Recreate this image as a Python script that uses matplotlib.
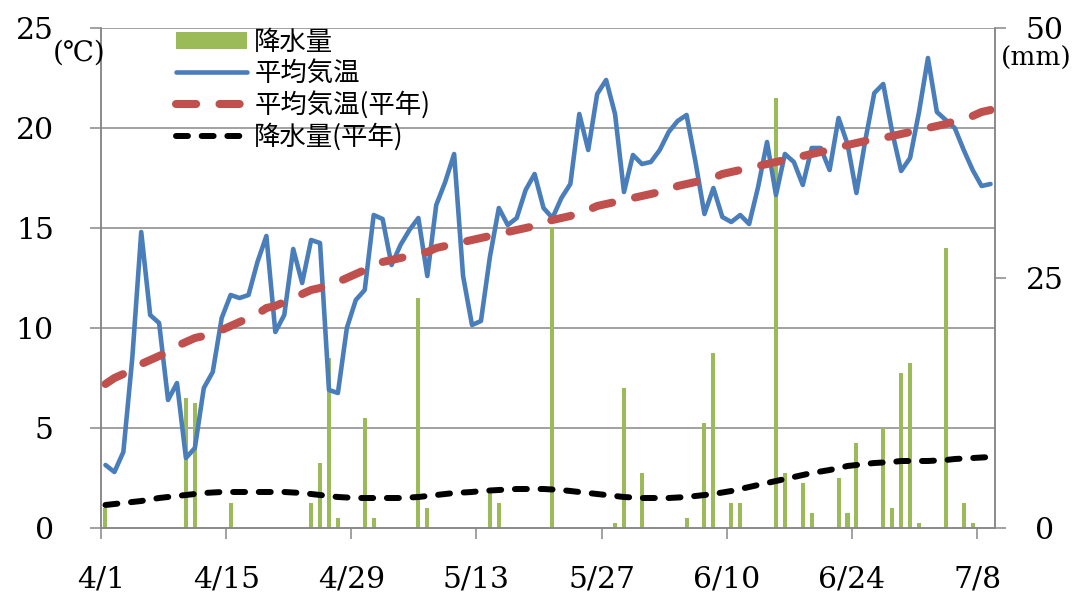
import matplotlib
matplotlib.use('Agg')
import matplotlib.pyplot as plt
import numpy as np

# daily values, 4/1 .. 7/9 (100 days)
temp_mean = [3.15, 2.8, 3.8, 8.5, 14.8, 10.65, 10.25, 6.4, 7.25, 3.5,
             4.0, 7.0, 7.8, 10.5, 11.65, 11.5, 11.65, 13.3, 14.6, 9.8,
             10.65, 13.95, 12.25, 14.4, 14.25, 6.9, 6.75, 10.0, 11.4, 11.9,
             15.65, 15.45, 13.15, 14.15, 14.9, 15.5, 12.6, 16.15, 17.3, 18.7,
             12.6, 10.15, 10.35, 13.55, 16.0, 15.15, 15.5, 16.9, 17.7, 16.0,
             15.5, 16.5, 17.2, 20.7, 18.9, 21.7, 22.4, 20.7, 16.8, 18.65,
             18.2, 18.3, 18.9, 19.8, 20.35, 20.65, 18.3, 15.7, 17.0, 15.55,
             15.3, 15.65, 15.2, 17.05, 19.3, 16.65, 18.7, 18.3, 17.15, 19.0,
             19.0, 17.9, 20.5, 19.2, 16.75, 19.4, 21.75, 22.2, 19.8, 17.85,
             18.5, 20.8, 23.5, 20.8, 20.4, 20.0, 18.9, 17.9, 17.1, 17.2]

temp_normal = [7.2, 7.5, 7.7, 8.0, 8.2, 8.4, 8.6, 8.8, 9.1, 9.3,
               9.5, 9.6, 9.8, 9.9, 10.1, 10.3, 10.5, 10.7, 11.0, 11.1,
               11.3, 11.5, 11.7, 11.9, 12.0, 12.2, 12.3, 12.5, 12.7, 12.9,
               13.1, 13.3, 13.4, 13.5, 13.6, 13.7, 13.8, 14.0, 14.1, 14.2,
               14.3, 14.4, 14.5, 14.6, 14.7, 14.8, 14.9, 15.0, 15.1, 15.3,
               15.4, 15.5, 15.6, 15.8, 15.9, 16.1, 16.2, 16.3, 16.4, 16.5,
               16.6, 16.7, 16.8, 16.9, 17.1, 17.2, 17.3, 17.4, 17.5, 17.7,
               17.8, 17.9, 18.0, 18.1, 18.2, 18.3, 18.4, 18.5, 18.6, 18.7,
               18.8, 18.9, 19.0, 19.15, 19.25, 19.35, 19.4, 19.5, 19.6, 19.7,
               19.8, 19.9, 20.0, 20.1, 20.2, 20.35, 20.5, 20.6, 20.8, 20.9]

precip_normal = [2.3, 2.4, 2.5, 2.6, 2.7, 2.85, 3.0, 3.1, 3.2, 3.3,
                 3.4, 3.5, 3.55, 3.6, 3.6, 3.6, 3.6, 3.6, 3.6, 3.6,
                 3.6, 3.55, 3.5, 3.4, 3.3, 3.2, 3.1, 3.05, 3.0, 3.0,
                 3.0, 3.0, 3.0, 3.0, 3.05, 3.1, 3.2, 3.3, 3.4, 3.5,
                 3.55, 3.6, 3.7, 3.75, 3.8, 3.85, 3.9, 3.9, 3.9, 3.9,
                 3.85, 3.8, 3.7, 3.6, 3.5, 3.4, 3.3, 3.2, 3.1, 3.05,
                 3.0, 3.0, 3.0, 3.0, 3.05, 3.1, 3.2, 3.3, 3.4, 3.55,
                 3.7, 3.9, 4.1, 4.3, 4.5, 4.7, 4.9, 5.1, 5.3, 5.5,
                 5.65, 5.8, 6.0, 6.2, 6.3, 6.4, 6.5, 6.55, 6.6, 6.7,
                 6.7, 6.7, 6.7, 6.75, 6.8, 6.9, 6.95, 7.0, 7.05, 7.1]

# days with rain (index from 4/1) and amount in mm
rain_day = [0, 9, 10, 14, 23, 24, 25, 26, 29, 30, 35, 36, 43, 44, 50, 57, 58,
            60, 65, 67, 68, 70, 71, 75, 76, 78, 79, 82, 83, 84, 87, 88, 89,
            90, 91, 94, 96, 97]
rain_mm = [2.0, 13.0, 12.5, 2.5, 2.5, 6.5, 17.0, 1.0, 11.0, 1.0, 23.0, 2.0,
           3.5, 2.5, 30.1, 0.5, 14.0, 5.5, 1.0, 10.5, 17.5, 2.5, 2.5, 43.0,
           5.5, 4.5, 1.5, 5.0, 1.5, 8.5, 10.0, 2.0, 15.5, 16.5, 0.5, 28.0,
           2.5, 0.5]

tick_days = [0, 14, 28, 42, 56, 70, 84, 98]
tick_labels = ['4/1', '4/15', '4/29', '5/13', '5/27', '6/10', '6/24', '7/8']

legend_labels = ['降水量', '平均気温', '平均気温(平年)', '降水量(平年)']

GRID = '#878787'
NUM_FONT = 'DejaVu Serif'
JP_FONT = ['Noto Sans CJK JP', 'DejaVu Sans']

x = np.arange(len(temp_mean)) + 0.5

fig = plt.figure(figsize=(10.79, 5.93), dpi=100)
ax2 = fig.add_axes([101 / 1079, 1 - 528 / 593, 894 / 1079, 500 / 593])
ax1 = ax2.twinx()
# temperature axis on the left, rain axis on the right
ax1.yaxis.tick_left()
ax1.yaxis.set_label_position('left')
ax2.yaxis.tick_right()
ax2.yaxis.set_label_position('right')
ax1.set_zorder(2)
ax2.set_zorder(1)
ax1.patch.set_visible(False)

# precipitation bars + normal precipitation (right axis)
bars = ax2.bar(np.array(rain_day) + 0.5, rain_mm, width=0.45, color='#9BBB59',
               zorder=2)
lp, = ax2.plot(x, precip_normal, color='black', lw=4.3, dashes=(2.0, 2.3),
               dash_capstyle='round', zorder=3)
ax2.set_ylim(0, 50)
ax2.set_yticks([0, 25, 50])
ax2.set_yticks([10, 20, 30, 40], minor=True)
ax2.grid(True, which='minor', axis='y', color=GRID, lw=1.1)
ax2.axhline(50, color=GRID, lw=1.1, zorder=1)
ax2.tick_params(axis='y', which='minor', length=0)
ax2.tick_params(axis='y', which='major', direction='out', length=8, width=1.1,
                color=GRID, pad=28, labelsize=21.5)
for lab in ax2.get_yticklabels():
    lab.set_fontfamily(NUM_FONT)
    lab.set_ha('center')
    lab.set_va('center_baseline')

# temperatures (left axis)
lt, = ax1.plot(x, temp_mean, color='#4A7EBB', lw=3.3, solid_joinstyle='round',
               solid_capstyle='round')
ln, = ax1.plot(x, temp_normal, color='#C0504D', lw=5.8, dashes=(2.5, 2.9),
               dash_capstyle='round')
ax1.set_ylim(0, 25)
ax1.set_yticks(np.arange(0, 26, 5))
ax1.tick_params(axis='y', direction='out', length=8, width=1.1, color=GRID,
                pad=26, labelsize=21.5)
for lab in ax1.get_yticklabels():
    lab.set_fontfamily(NUM_FONT)

ax2.set_xlim(0, 100)
ax2.set_xticks(tick_days)
ax2.set_xticklabels(tick_labels, fontsize=21.5, fontfamily=NUM_FONT)
ax2.tick_params(axis='x', direction='out', length=8, width=1.1, color=GRID, pad=19)
ax1.tick_params(axis='x', length=0)

for ax in (ax1, ax2):
    ax.spines['top'].set_visible(False)
    for s in ('left', 'right', 'bottom'):
        ax.spines[s].set_color(GRID)
        ax.spines[s].set_linewidth(1.1)

fig.text(79 / 1079, 1 - 53 / 593, '(℃)', fontsize=20, ha='center', va='center',
         family=['DejaVu Serif', 'Noto Sans CJK JP'])
fig.text(1036 / 1079, 1 - 58 / 593, '(mm)', fontsize=19, ha='center', va='center',
         family=NUM_FONT)

ax1.legend([bars, lt, ln, lp], legend_labels, loc='upper left',
           bbox_to_anchor=(176 / 1079, 1 - 29 / 593), bbox_transform=fig.transFigure,
           frameon=False, prop={'family': JP_FONT, 'size': 19},
           handlelength=2.7, handleheight=0.6, handletextpad=0.27,
           labelspacing=0.15, borderpad=0, borderaxespad=0)

fig.savefig('out.png', dpi=100)
